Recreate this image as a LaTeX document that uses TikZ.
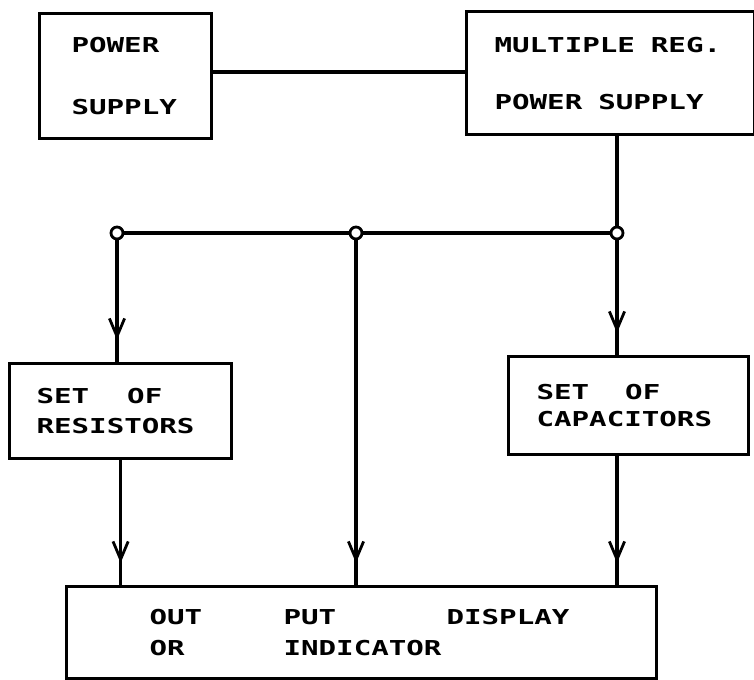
\documentclass[tikz,border=0pt]{standalone}
\usepackage{fontspec}
\newfontfamily\plotfont[FakeStretch=1.42]{DejaVu Sans Mono Bold}
\usetikzlibrary{arrows.meta,decorations.markings}

\tikzset{
  blk/.style n args={3}{draw, line width=0.8mm, rectangle, anchor=north west,
    minimum width=#1, minimum height=#2, inner xsep=#3, inner ysep=0pt,
    text width=#1-2*#3, align=left, font=\plotfont\fontsize{14.6}{17.5}\selectfont},
  junc/.style={circle, draw, fill=white, line width=0.7mm, inner sep=0pt, minimum size=3mm},
  wire/.style={line width=0.8mm},
  flow/.style={wire, decoration={markings,
    mark=at position -5.5mm with {\arrow{Straight Barb[length=4.5mm, width=3.8mm, line width=0.7mm]}}},
    postaction={decorate}}
}

\begin{document}
\begin{tikzpicture}[x=0.25mm, y=-0.25mm]
  \useasboundingbox (0,0) rectangle (754,680);

  % blocks
  \node[blk={43mm}{31.25mm}{8mm}] (psu) at (38,12) {POWER\\[26pt]SUPPLY};
  \node[blk={72mm}{30.75mm}{7mm}] (mreg) at (465,10)
    {MULTIPLE\hspace{4mm}REG.\\[23pt]POWER\hspace{4mm}SUPPLY};
  \node[blk={55.5mm}{23.75mm}{6.75mm}] (res) at (8,362) {SET\hspace{9.5mm}OF\\[3.8pt]RESISTORS};
  \node[blk={60mm}{24.5mm}{7mm}] (cap) at (507,355) {SET\hspace{9mm}OF\\[1.7pt]CAPACITORS};
  \node[blk={147.5mm}{23mm}{20.75mm}] (disp) at (65,585)
    {\makebox[33.5mm][l]{OUT}\makebox[40.75mm][l]{PUT}DISPLAY\\[4.5pt]\makebox[33.5mm][l]{OR}INDICATOR};

  % junctions on the bus
  \node[junc] (j1) at (117,233) {};
  \node[junc] (j2) at (356,233) {};
  \node[junc] (j3) at (617,233) {};

  % wiring
  \draw[wire] (psu.east |- 0,72) -- (mreg.west |- 0,72);
  \draw[wire] (j3 |- mreg.south) -- (j3);
  \draw[wire] (j1) -- (j2) -- (j3);
  \draw[flow] (j1) -- (j1 |- res.north);
  \draw[flow] (j3) -- (j3 |- cap.north);
  \draw[flow] (j2) -- (j2 |- disp.north);
  \draw[flow] (res.south) -- (res.south |- disp.north);
  \draw[flow] (j3 |- cap.south) -- (j3 |- disp.north);
\end{tikzpicture}
\end{document}
